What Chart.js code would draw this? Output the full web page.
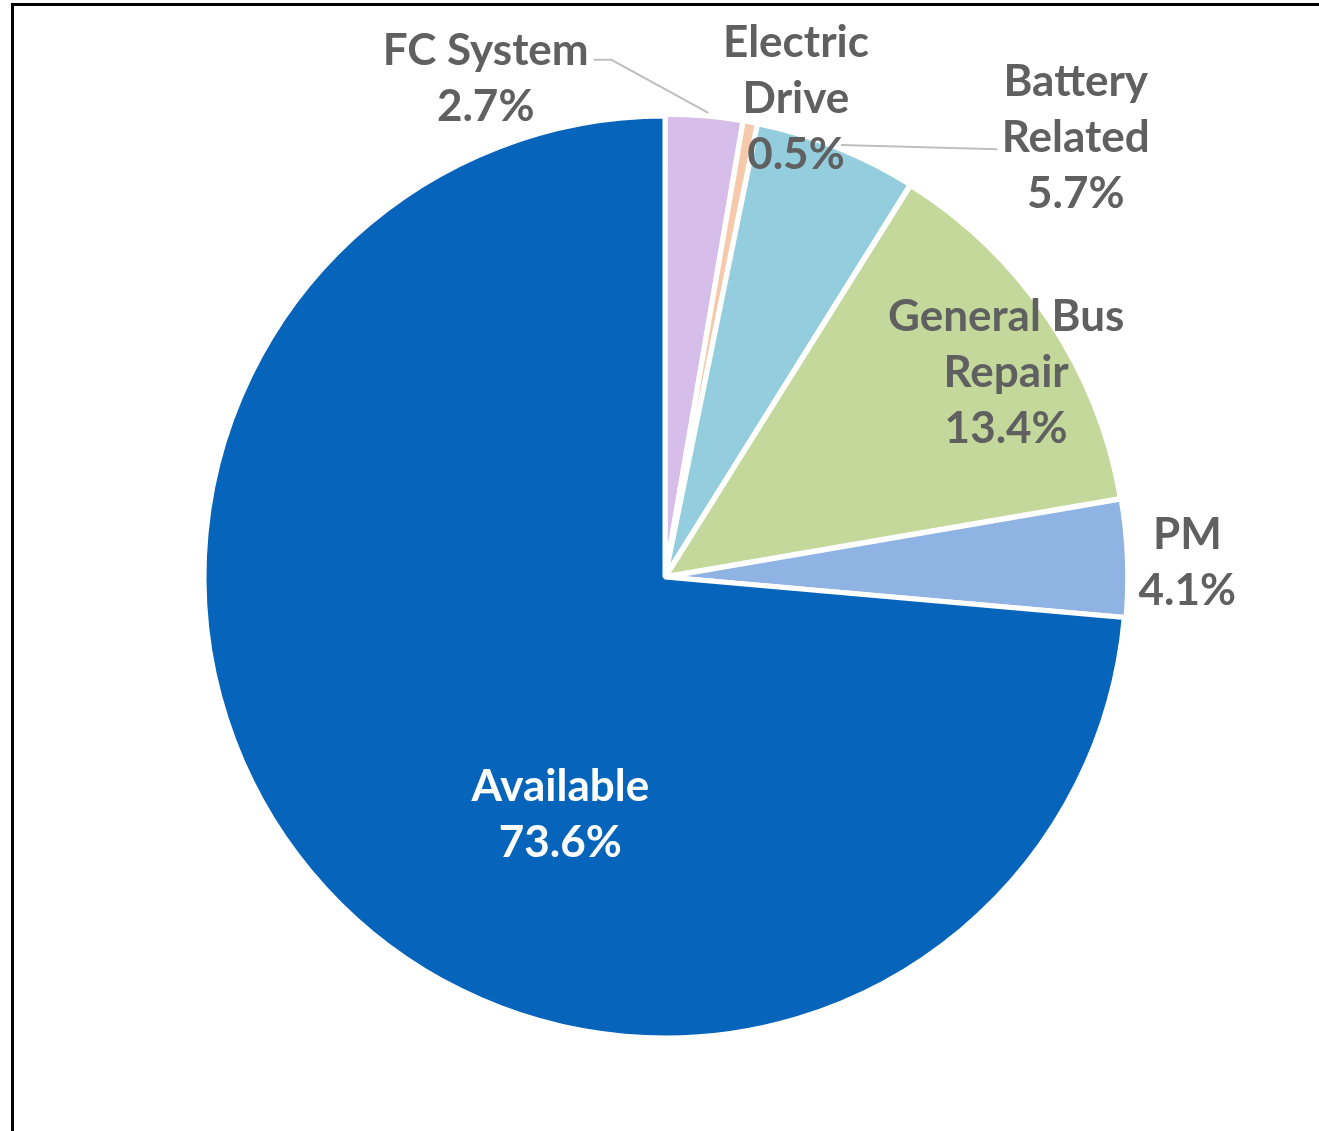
<!DOCTYPE html>
<html>
<head>
<meta charset="utf-8">
<script src="https://cdn.jsdelivr.net/npm/chart.js@4.4.0/dist/chart.umd.min.js"></script>
<style>
  html, body { margin: 0; padding: 0; background: #fff; overflow: hidden; }
  #wrap { position: relative; width: 1319px; height: 1131px; }
  #frame { position: absolute; left: 11px; top: 3px; width: 2000px; height: 2000px; border: 3px solid #000; box-sizing: border-box; pointer-events: none; }
  canvas { position: absolute; left: 0; top: 0; }
</style>
</head>
<body>
<div id="wrap">
  <canvas id="c" width="1319" height="1131"></canvas>
  <div id="frame"></div>
</div>
<script>
// ---- Data ----
const categories = ['FC System', 'Electric Drive', 'Battery Related', 'General Bus Repair', 'PM', 'Available'];
const values = [2.7, 0.5, 5.7, 13.4, 4.1, 73.6];
const colors = ['#D7BEEA', '#F6C9AA', '#94CDDD', '#C4D89C', '#8FB3E2', '#0665BA'];

// ---- Layout (label placement relative to pie centre, in units of radius) ----
const labelLines = [['FC System'], ['Electric', 'Drive'], ['Battery', 'Related'], ['General Bus', 'Repair'], ['PM'], ['Available']];
const labelPos = [[-0.389, -1.0810], [0.284, -1.038], [0.891, -0.953], [0.740, -0.442], [1.133, -0.031], [-0.227, 0.515]];
const labelColor = ['#606060', '#606060', '#606060', '#606060', '#606060', '#FFFFFF'];
const leaders = [
  [[-0.155, -1.122], [-0.116, -1.122], [0.094, -1.007]],
  [[0.382, -0.937], [0.721, -0.928]]
];
const offsets = [4, 4, 4, 4, 4, 0];

const labelPlugin = {
  id: 'pieLabels',
  afterDatasetsDraw(chart) {
    const ctx = chart.ctx;
    const meta = chart.getDatasetMeta(0);
    const arc0 = meta.data[5];
    const cx = arc0.x, cy = arc0.y, r = arc0.outerRadius;
    ctx.save();
    ctx.strokeStyle = '#BFBFBF';
    ctx.lineWidth = 2;
    leaders.forEach(pts => {
      ctx.beginPath();
      pts.forEach((p, i) => {
        const x = cx + p[0] * r, y = cy + p[1] * r;
        if (i === 0) ctx.moveTo(x, y); else ctx.lineTo(x, y);
      });
      ctx.stroke();
    });
    ctx.font = 'bold 44px Lato, "Open Sans", sans-serif';
    ctx.textAlign = 'center';
    ctx.textBaseline = 'middle';
    const lh = 56;
    values.forEach((v, i) => {
      const lines = labelLines[i].concat([v.toFixed(1) + '%']);
      const x = cx + labelPos[i][0] * r;
      const y0 = cy + labelPos[i][1] * r - (lines.length - 1) * lh / 2;
      ctx.fillStyle = labelColor[i];
      lines.forEach((t, k) => ctx.fillText(t, x, y0 + k * lh));
    });
    ctx.restore();
  }
};

new Chart(document.getElementById('c'), {
  type: 'pie',
  data: {
    labels: categories,
    datasets: [{
      data: values,
      backgroundColor: colors,
      borderColor: '#FFFFFF',
      borderWidth: 5,
      offset: offsets
    }]
  },
  options: {
    responsive: false,
    animation: false,
    radius: 461,
    layout: { padding: { left: 206, right: 195, top: 118, bottom: 95 } },
    plugins: { legend: { display: false }, tooltip: { enabled: false } }
  },
  plugins: [labelPlugin]
});
</script>
</body>
</html>
